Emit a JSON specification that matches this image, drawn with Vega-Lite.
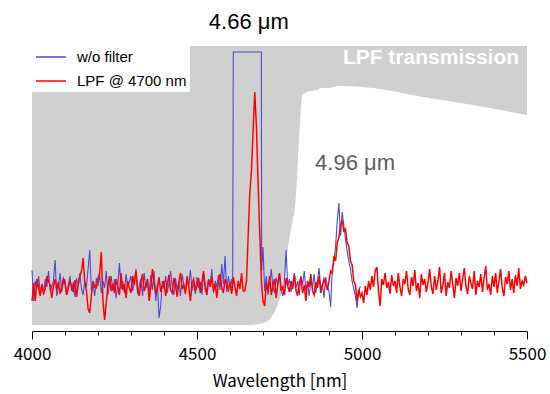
{
"$schema": "https://vega.github.io/schema/vega-lite/v6.json",
"width": 495, "height": 285,
"autosize": {"type": "none"},
"padding": {"left": 32, "top": 46, "right": 23, "bottom": 63},
"background": "white",
"config": {"view": {"stroke": null}, "mark": {"invalid": "filter"}},
"datasets": {
"trans": [{"w":4000,"t":6},{"w":4660,"t":6},{"w":4700,"t":8},{"w":4721,"t":12},{"w":4742,"t":24},{"w":4758,"t":41},{"w":4767,"t":58},{"w":4776,"t":84},{"w":4788,"t":108},{"w":4797,"t":124},{"w":4803,"t":153},{"w":4812,"t":208},{"w":4818,"t":234},{"w":4827,"t":238},{"w":4845,"t":240},{"w":4864,"t":241},{"w":4873,"t":243},{"w":4894,"t":243},{"w":4933,"t":245},{"w":5033,"t":243},{"w":5185,"t":234},{"w":5336,"t":226},{"w":5500,"t":216}],
"spec": [
{"w":4000,"b":61,"r":30},{"w":4005,"b":30,"r":48},{"w":4010,"b":50,"r":30},{"w":4015,"b":42,"r":52},{"w":4020,"b":55,"r":44},{"w":4025,"b":38,"r":35},{"w":4030,"b":47,"r":47},{"w":4035,"b":36,"r":38},{"w":4040,"b":52,"r":42},{"w":4045,"b":44,"r":55},{"w":4050,"b":60,"r":50},{"w":4055,"b":40,"r":46},{"w":4060,"b":45,"r":33},{"w":4065,"b":50,"r":45},{"w":4070,"b":71,"r":52},{"w":4075,"b":35,"r":41},{"w":4080,"b":43,"r":49},{"w":4085,"b":58,"r":37},{"w":4090,"b":39,"r":44},{"w":4095,"b":48,"r":52},
{"w":4100,"b":52,"r":47},{"w":4105,"b":37,"r":36},{"w":4110,"b":46,"r":43},{"w":4115,"b":55,"r":50},{"w":4120,"b":40,"r":45},{"w":4125,"b":49,"r":39},{"w":4130,"b":34,"r":51},{"w":4135,"b":53,"r":34},{"w":4140,"b":45,"r":46},{"w":4145,"b":58,"r":55},{"w":4150,"b":42,"r":60},{"w":4155,"b":36,"r":73},{"w":4160,"b":50,"r":48},{"w":4165,"b":44,"r":40},{"w":4170,"b":62,"r":22},{"w":4175,"b":81,"r":18},{"w":4180,"b":40,"r":36},{"w":4185,"b":47,"r":50},{"w":4190,"b":35,"r":44},{"w":4195,"b":53,"r":43},
{"w":4200,"b":45,"r":52},{"w":4205,"b":56,"r":58},{"w":4210,"b":38,"r":79},{"w":4215,"b":50,"r":30},{"w":4220,"b":43,"r":11},{"w":4225,"b":60,"r":28},{"w":4230,"b":36,"r":45},{"w":4235,"b":47,"r":55},{"w":4240,"b":55,"r":40},{"w":4245,"b":40,"r":47},{"w":4250,"b":52,"r":38},{"w":4255,"b":33,"r":52},{"w":4260,"b":46,"r":44},{"w":4265,"b":68,"r":36},{"w":4270,"b":42,"r":58},{"w":4275,"b":50,"r":41},{"w":4280,"b":38,"r":47},{"w":4285,"b":57,"r":33},{"w":4290,"b":44,"r":50},{"w":4295,"b":49,"r":43},
{"w":4300,"b":55,"r":38},{"w":4305,"b":40,"r":55},{"w":4310,"b":48,"r":46},{"w":4315,"b":62,"r":60},{"w":4320,"b":37,"r":42},{"w":4325,"b":45,"r":35},{"w":4330,"b":52,"r":49},{"w":4335,"b":35,"r":57},{"w":4340,"b":58,"r":40},{"w":4345,"b":43,"r":45},{"w":4350,"b":49,"r":52},{"w":4355,"b":38,"r":30},{"w":4360,"b":56,"r":44},{"w":4365,"b":41,"r":62},{"w":4370,"b":60,"r":48},{"w":4375,"b":30,"r":37},{"w":4380,"b":47,"r":43},{"w":4385,"b":13,"r":54},{"w":4390,"b":25,"r":39},{"w":4395,"b":50,"r":46},
{"w":4400,"b":42,"r":50},{"w":4405,"b":55,"r":35},{"w":4410,"b":38,"r":47},{"w":4415,"b":48,"r":56},{"w":4420,"b":60,"r":41},{"w":4425,"b":44,"r":38},{"w":4430,"b":36,"r":53},{"w":4435,"b":53,"r":45},{"w":4440,"b":41,"r":34},{"w":4445,"b":50,"r":49},{"w":4450,"b":35,"r":58},{"w":4455,"b":57,"r":42},{"w":4460,"b":46,"r":46},{"w":4465,"b":39,"r":37},{"w":4470,"b":52,"r":55},{"w":4475,"b":44,"r":44},{"w":4480,"b":61,"r":30},{"w":4485,"b":40,"r":48},{"w":4490,"b":48,"r":52},{"w":4495,"b":37,"r":40},
{"w":4500,"b":54,"r":45},{"w":4505,"b":43,"r":53},{"w":4510,"b":49,"r":38},{"w":4515,"b":36,"r":49},{"w":4520,"b":58,"r":60},{"w":4525,"b":45,"r":42},{"w":4530,"b":40,"r":36},{"w":4535,"b":52,"r":51},{"w":4540,"b":47,"r":44},{"w":4545,"b":62,"r":55},{"w":4550,"b":38,"r":40},{"w":4555,"b":50,"r":47},{"w":4560,"b":44,"r":33},{"w":4565,"b":56,"r":50},{"w":4570,"b":41,"r":57},{"w":4575,"b":67,"r":43},{"w":4580,"b":47,"r":38},{"w":4585,"b":75,"r":52},{"w":4590,"b":39,"r":46},{"w":4595,"b":55,"r":41},
{"w":4600,"b":45,"r":49},{"w":4605,"b":52,"r":37},{"w":4608,"b":40},{"w":4610,"b":279,"r":54},{"w":4615,"b":279,"r":44},{"w":4620,"b":279,"r":35},{"w":4625,"b":279,"r":50},{"w":4630,"b":279,"r":42},{"w":4635,"b":279,"r":58},{"w":4640,"b":279,"r":40},{"w":4645,"b":279,"r":40},{"w":4650,"b":279,"r":50},{"w":4655,"b":279,"r":95},{"w":4660,"b":279,"r":138},{"w":4665,"b":279,"r":160},{"w":4670,"b":279,"r":200},{"w":4675,"b":279,"r":239},{"w":4680,"b":279,"r":205},{"w":4685,"b":279,"r":150},{"w":4690,"b":279,"r":100},{"w":4695,"b":279,"r":50},{"w":4696,"b":60},
{"w":4700,"b":84,"r":30},{"w":4705,"b":40,"r":25},{"w":4710,"b":55,"r":48},{"w":4715,"b":36,"r":40},{"w":4720,"b":48,"r":55},{"w":4725,"b":62,"r":36},{"w":4730,"b":44,"r":45},{"w":4735,"b":38,"r":52},{"w":4740,"b":53,"r":33},{"w":4745,"b":46,"r":47},{"w":4750,"b":57,"r":58},{"w":4755,"b":41,"r":40},{"w":4760,"b":35,"r":44},{"w":4765,"b":50,"r":36},{"w":4770,"b":81,"r":53},{"w":4775,"b":45,"r":45},{"w":4780,"b":52,"r":39},{"w":4785,"b":39,"r":50},{"w":4790,"b":47,"r":42},{"w":4795,"b":58,"r":56},
{"w":4800,"b":43,"r":41},{"w":4805,"b":50,"r":35},{"w":4810,"b":36,"r":48},{"w":4815,"b":55,"r":54},{"w":4820,"b":46,"r":38},{"w":4825,"b":60,"r":46},{"w":4830,"b":40,"r":30},{"w":4835,"b":48,"r":50},{"w":4840,"b":35,"r":44},{"w":4845,"b":52,"r":57},{"w":4850,"b":44,"r":40},{"w":4855,"b":57,"r":36},{"w":4860,"b":38,"r":49},{"w":4865,"b":49,"r":43},{"w":4870,"b":63,"r":55},{"w":4875,"b":42,"r":38},{"w":4880,"b":47,"r":45},{"w":4885,"b":33,"r":52},{"w":4890,"b":54,"r":47},{"w":4895,"b":45,"r":41},
{"w":4900,"b":40,"r":50},{"w":4905,"b":24,"r":60},{"w":4910,"b":62,"r":58},{"w":4915,"b":70,"r":75},{"w":4920,"b":85,"r":70},{"w":4925,"b":110,"r":88},{"w":4930,"b":128,"r":94},{"w":4935,"b":95,"r":106},{"w":4940,"b":119,"r":111},{"w":4945,"b":105,"r":100},{"w":4950,"b":92,"r":102},{"w":4955,"b":80,"r":88},{"w":4960,"b":70,"r":85},{"w":4965,"b":62,"r":70},{"w":4970,"b":50,"r":66},{"w":4975,"b":42,"r":50},{"w":4980,"b":35,"r":46},{"w":4985,"b":23,"r":30},{"w":4990,"b":40,"r":42},{"w":4995,"b":45,"r":34},
{"w":5000,"r":38},{"w":5005,"r":28},{"w":5010,"r":45},{"w":5015,"r":36},{"w":5020,"r":50},{"w":5025,"r":41},{"w":5030,"r":55},{"w":5035,"r":44},{"w":5040,"r":60},{"w":5045,"r":64},{"w":5050,"r":40},{"w":5055,"r":25},{"w":5060,"r":52},{"w":5065,"r":46},{"w":5070,"r":58},{"w":5075,"r":43},{"w":5080,"r":49},{"w":5085,"r":37},{"w":5090,"r":56},{"w":5095,"r":45},
{"w":5100,"r":50},{"w":5105,"r":38},{"w":5110,"r":58},{"w":5115,"r":44},{"w":5120,"r":35},{"w":5125,"r":52},{"w":5130,"r":47},{"w":5135,"r":60},{"w":5140,"r":42},{"w":5145,"r":36},{"w":5150,"r":54},{"w":5155,"r":45},{"w":5160,"r":61},{"w":5165,"r":40},{"w":5170,"r":48},{"w":5175,"r":33},{"w":5180,"r":57},{"w":5185,"r":46},{"w":5190,"r":52},{"w":5195,"r":39},
{"w":5200,"r":48},{"w":5205,"r":62},{"w":5210,"r":44},{"w":5215,"r":37},{"w":5220,"r":55},{"w":5225,"r":41},{"w":5230,"r":50},{"w":5235,"r":64},{"w":5240,"r":38},{"w":5245,"r":46},{"w":5250,"r":58},{"w":5255,"r":35},{"w":5260,"r":49},{"w":5265,"r":43},{"w":5270,"r":60},{"w":5275,"r":47},{"w":5280,"r":33},{"w":5285,"r":53},{"w":5290,"r":45},{"w":5295,"r":58},
{"w":5300,"r":40},{"w":5305,"r":52},{"w":5310,"r":63},{"w":5315,"r":45},{"w":5320,"r":37},{"w":5325,"r":55},{"w":5330,"r":48},{"w":5335,"r":42},{"w":5340,"r":60},{"w":5345,"r":36},{"w":5350,"r":50},{"w":5355,"r":44},{"w":5360,"r":57},{"w":5365,"r":39},{"w":5370,"r":53},{"w":5375,"r":65},{"w":5380,"r":41},{"w":5385,"r":47},{"w":5390,"r":36},{"w":5395,"r":55},
{"w":5400,"r":44},{"w":5405,"r":58},{"w":5410,"r":38},{"w":5415,"r":50},{"w":5420,"r":62},{"w":5425,"r":43},{"w":5430,"r":35},{"w":5435,"r":54},{"w":5440,"r":47},{"w":5445,"r":60},{"w":5450,"r":41},{"w":5455,"r":52},{"w":5460,"r":38},{"w":5465,"r":56},{"w":5470,"r":45},{"w":5475,"r":63},{"w":5480,"r":42},{"w":5485,"r":50},{"w":5490,"r":46},{"w":5495,"r":55},{"w":5500,"r":48}
]
},
"encoding": {
"x": {"field": "w", "type": "quantitative",
 "scale": {"domain": [4000, 5500], "nice": false, "zero": false},
 "axis": {"values": [4000,4100,4200,4300,4400,4500,4600,4700,4800,4900,5000,5100,5200,5300,5400,5500],
  "format": "d", "labelExpr": "datum.value % 500 === 0 ? datum.label : ''",
  "tickSize": {"condition": {"test": "datum.value % 500 === 0", "value": 8}, "value": 4},
  "grid": false, "domainColor": "black", "tickColor": "black", "labelColor": "black",
  "labelFont": "Noto Sans CJK JP", "labelFontSize": 17, "labelPadding": 7, "labelFlush": false, "labelOverlap": false,
  "title": "Wavelength [nm]", "titleFont": "Noto Sans CJK JP", "titleFontSize": 17, "titleFontWeight": "normal", "titleColor": "black", "titlePadding": 11}}
},
"layer": [
{"data": {"name": "trans"},
 "mark": {"type": "area", "color": "#d0d0d0", "interpolate": "monotone"},
 "encoding": {"y": {"field": "t", "type": "quantitative", "scale": {"domain": [0, 285], "nice": false, "zero": false}, "axis": null}, "y2": {"datum": 285}}},
{"data": {"name": "spec"}, "transform": [{"filter": "isValid(datum.b)"}],
 "mark": {"type": "line", "strokeWidth": 1.1},
 "encoding": {"y": {"field": "b", "type": "quantitative", "scale": {"domain": [0, 285], "nice": false, "zero": false}, "axis": null},
  "color": {"datum": "w/o filter", "type": "nominal",
   "scale": {"domain": ["w/o filter", "LPF @ 4700 nm"], "range": ["#4a4ad8", "#ff0000"]},
   "legend": {"orient": "none", "legendX": 0, "legendY": -8, "title": null, "symbolType": "stroke", "symbolSize": 900, "symbolStrokeWidth": 1.5,
    "labelFont": "Liberation Sans", "labelFontSize": 15, "labelColor": "black", "fillColor": "white", "padding": 3, "labelOffset": 10, "rowPadding": -12}}}},
{"data": {"name": "spec"}, "transform": [{"filter": "isValid(datum.r)"}],
 "mark": {"type": "line", "strokeWidth": 1.5},
 "encoding": {"y": {"field": "r", "type": "quantitative", "scale": {"domain": [0, 285], "nice": false, "zero": false}, "axis": null},
  "color": {"datum": "LPF @ 4700 nm", "type": "nominal"}}},
{"data": {"values": [{"w": 4657, "v": 309, "label": "4.66 μm"}]},
 "mark": {"type": "text", "font": "Liberation Sans", "fontSize": 22, "color": "black", "align": "center", "baseline": "middle"},
 "encoding": {"y": {"field": "v", "type": "quantitative", "scale": {"domain": [0, 285], "nice": false, "zero": false}, "axis": null}, "text": {"field": "label"}}},
{"data": {"values": [{"w": 4979, "v": 168, "label": "4.96 μm"}]},
 "mark": {"type": "text", "font": "Liberation Sans", "fontSize": 22, "color": "#5e5e5e", "align": "center", "baseline": "middle"},
 "encoding": {"y": {"field": "v", "type": "quantitative", "scale": {"domain": [0, 285], "nice": false, "zero": false}, "axis": null}, "text": {"field": "label"}}},
{"data": {"values": [{"w": 5209, "v": 273, "label": "LPF transmission"}]},
 "mark": {"type": "text", "font": "Liberation Sans", "fontSize": 21, "fontWeight": "bold", "color": "white", "align": "center", "baseline": "middle"},
 "encoding": {"y": {"field": "v", "type": "quantitative", "scale": {"domain": [0, 285], "nice": false, "zero": false}, "axis": null}, "text": {"field": "label"}}}
]
}
